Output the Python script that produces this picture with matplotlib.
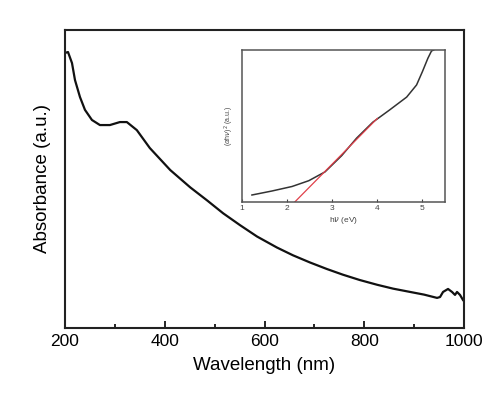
import matplotlib
matplotlib.use("Agg")
import matplotlib.pyplot as plt
from matplotlib.ticker import MultipleLocator

plt.rcParams["font.family"] = ["Liberation Sans", "DejaVu Sans"]

# main UV-vis absorbance spectrum
wavelength = [200, 206, 214, 220, 230, 240, 254, 270, 290, 310, 324, 344,
              370, 411, 451, 485, 517, 551, 585, 625, 657, 691, 725, 757,
              791, 826, 858, 892, 920, 946, 952, 958, 968, 976, 982, 986,
              992, 998]
absorbance = [0.923, 0.926, 0.889, 0.832, 0.775, 0.732, 0.698, 0.681, 0.681,
              0.691, 0.691, 0.664, 0.604, 0.530, 0.472, 0.428, 0.385, 0.345,
              0.307, 0.270, 0.244, 0.220, 0.198, 0.179, 0.161, 0.145, 0.132,
              0.121, 0.112, 0.101, 0.104, 0.121, 0.131, 0.121, 0.111, 0.121,
              0.111, 0.094]

# inset Tauc plot
hv = [1.22, 1.66, 2.11, 2.48, 2.84, 3.21, 3.54, 3.90, 4.27, 4.65, 4.87,
      5.00, 5.12, 5.20, 5.25]
tauc = [0.046, 0.072, 0.102, 0.140, 0.198, 0.305, 0.420, 0.525, 0.605,
        0.690, 0.770, 0.858, 0.945, 0.993, 1.0]
fit_hv = [2.17, 4.0]
fit_tauc = [0.0, 0.55]

main_ticks = [200, 400, 600, 800, 1000]
inset_ticks = [1, 2, 3, 4, 5]

fig = plt.figure(figsize=(4.91, 4.03), dpi=100)
ax = fig.add_axes([0.1324, 0.1861, 0.8126, 0.7395])
ax.plot(wavelength, absorbance, color="#111111", linewidth=1.6)
ax.set_xlim(200, 1000)
ax.set_ylim(0, 1)
ax.set_xticks(main_ticks)
ax.xaxis.set_minor_locator(MultipleLocator(100))
ax.set_yticks([])
ax.tick_params(axis="x", which="major", direction="in", length=5, width=1.2,
               labelsize=12.5, pad=4)
ax.tick_params(axis="x", which="minor", direction="in", length=3, width=1.2)
for sp in ax.spines.values():
    sp.set_linewidth(1.5)
    sp.set_color("#222222")
ax.set_xlabel("Wavelength (nm)", fontsize=13.5, labelpad=6)
ax.set_ylabel("Absorbance (a.u.)", fontsize=13.5, labelpad=10)

ins = fig.add_axes([0.4929, 0.4988, 0.4134, 0.3772])
ins.plot(hv, tauc, color="#333333", linewidth=1.1)
ins.plot(fit_hv, fit_tauc, color="#e0404a", linewidth=0.9)
ins.set_xlim(1, 5.5)
ins.set_ylim(0, 1)
ins.set_xticks(inset_ticks)
ins.set_yticks([])
ins.tick_params(axis="x", direction="in", length=2, width=0.8, labelsize=6,
                pad=2, colors="#444444")
for sp in ins.spines.values():
    sp.set_linewidth(1.1)
    sp.set_color("#555555")
ins.set_xlabel(r"h$\nu$ (eV)", fontsize=6, labelpad=2, color="#444444")
ins.set_ylabel(r"($\alpha$h$\nu$)$^2$ (a.u.)", fontsize=5, labelpad=4,
               color="#444444")

fig.savefig("out.png", dpi=100)
